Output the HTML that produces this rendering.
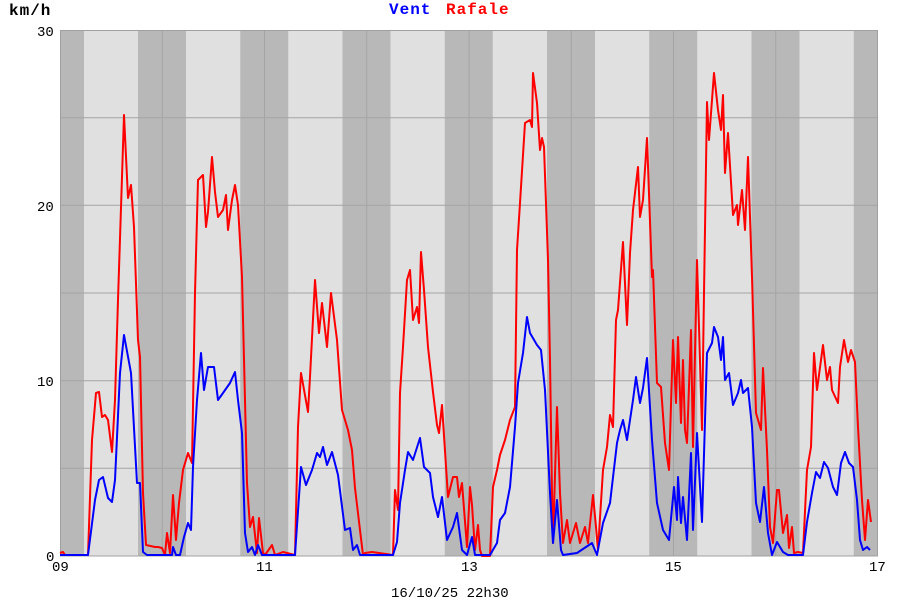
<!DOCTYPE html>
<html><head><meta charset="utf-8"><style>
body{margin:0;background:#fff;width:900px;height:600px;overflow:hidden}
svg{display:block}
text{font-family:"Liberation Mono",monospace;font-size:14px;fill:#000}
.t{font-size:16px;font-weight:bold;letter-spacing:1px}
</style></head><body>
<svg width="900" height="600" viewBox="0 0 900 600">
<rect x="60" y="30" width="818" height="526" fill="#e0e0e0"/>
<g fill="#b8b8b8">
<rect x="60" y="30" width="24" height="526"/>
<rect x="138" y="30" width="48" height="526"/>
<rect x="240.25" y="30" width="48" height="526"/>
<rect x="342.5" y="30" width="48" height="526"/>
<rect x="444.75" y="30" width="48" height="526"/>
<rect x="547" y="30" width="48" height="526"/>
<rect x="649.25" y="30" width="48" height="526"/>
<rect x="751.5" y="30" width="48" height="526"/>
<rect x="853.75" y="30" width="24.25" height="526"/>
</g>
<g stroke="#a4a4a4" stroke-width="1">
<line x1="60" y1="117.7" x2="878" y2="117.7"/>
<line x1="60" y1="205.3" x2="878" y2="205.3"/>
<line x1="60" y1="293" x2="878" y2="293"/>
<line x1="60" y1="380.7" x2="878" y2="380.7"/>
<line x1="60" y1="468.3" x2="878" y2="468.3"/>
<line x1="162.25" y1="30" x2="162.25" y2="556"/>
<line x1="264.5" y1="30" x2="264.5" y2="556"/>
<line x1="366.75" y1="30" x2="366.75" y2="556"/>
<line x1="469" y1="30" x2="469" y2="556"/>
<line x1="571.25" y1="30" x2="571.25" y2="556"/>
<line x1="673.5" y1="30" x2="673.5" y2="556"/>
<line x1="775.75" y1="30" x2="775.75" y2="556"/>
</g>
<rect x="60.5" y="30.5" width="817" height="525.5" fill="none" stroke="#a0a0a0"/>
<polyline fill="none" stroke="#ff0000" stroke-width="2" stroke-linejoin="round" points="60,553 63,552 65,555 88,555 92,440 96,393 99,392 102,417 105,415 108,420 112,452 115,400 118,300 122,177 124,115 128,198 131,185 134,227 138,340 140,357 143,493 146,545 155,547 158,547 162,548 165,555 167,533 170,553 173,495 176,540 179,503 183,470 188,453 192,463 195,293 198,180 203,175 206,227 208,212 212,157 215,192 218,217 223,210 226,195 228,230 232,200 235,185 238,205 242,277 247,483 250,527 253,517 257,553 259,518 263,553 265,555 272,545 275,555 283,552 295,555 298,427 301,373 308,412 310,377 315,280 319,333 322,303 327,347 331,293 337,340 342,410 348,430 352,450 355,488 360,530 363,555 365,553 372,552 393,555 395,490 398,510 400,393 403,347 407,280 410,270 413,320 417,307 419,323 421,252 424,290 428,347 433,392 437,425 439,433 442,405 448,497 453,477 457,477 459,497 462,483 467,547 470,487 472,505 475,550 478,525 480,550 482,556 490,556 493,487 497,470 500,455 505,440 510,420 515,407 517,250 520,203 525,123 530,120 532,127 533,73 537,103 540,150 542,138 544,147 548,260 550,360 552,493 553,543 557,407 560,493 563,543 567,520 570,543 576,523 580,543 585,527 588,543 593,495 596,527 598,550 603,470 607,447 610,415 613,427 616,320 618,310 623,242 627,325 630,253 633,210 638,167 640,217 643,200 647,138 652,277 653,270 657,383 661,387 665,443 669,470 673,340 676,403 678,337 681,423 683,360 685,430 687,443 691,330 693,447 697,260 699,327 702,430 704,293 707,102 709,140 712,100 714,73 718,110 721,130 723,95 725,173 728,133 733,215 737,205 738,225 742,190 745,230 748,157 752,277 756,413 761,430 763,368 767,450 770,527 773,543 777,490 779,490 783,533 787,515 789,548 792,527 794,553 798,552 803,553 807,470 811,447 814,353 817,390 823,345 827,380 830,367 832,390 838,403 840,367 844,340 848,362 851,350 855,362 858,427 862,500 865,540 868,500 871,522"/>
<polyline fill="none" stroke="#0000ff" stroke-width="2" stroke-linejoin="round" points="60,555 88,555 95,500 99,480 103,477 108,498 112,502 115,480 120,373 124,335 131,373 137,483 140,483 143,552 147,555 172,555 173,547 176,555 180,555 184,537 188,523 191,530 193,467 197,400 201,353 204,390 208,367 214,367 218,400 223,393 230,383 235,372 238,400 242,433 245,533 248,552 252,547 255,555 258,545 262,555 295,555 301,467 306,485 312,470 317,453 320,457 323,447 327,465 332,452 338,475 345,530 350,528 353,550 357,545 360,555 393,555 397,542 400,503 405,470 408,452 413,460 420,438 424,467 430,473 433,497 438,517 442,497 447,540 453,527 457,513 462,550 467,555 472,537 475,555 490,555 497,543 500,520 505,513 510,487 515,427 518,383 523,353 527,317 530,333 537,345 541,350 545,390 550,493 553,543 557,500 561,550 563,555 577,553 592,543 597,555 603,523 610,503 617,443 620,430 623,420 627,440 633,400 636,377 640,403 643,388 647,358 652,440 657,503 663,530 669,540 674,487 677,520 678,477 681,523 683,497 687,540 691,453 693,530 697,433 702,522 707,353 712,343 714,327 718,337 721,360 723,337 725,380 729,373 733,405 738,393 741,380 743,393 748,388 752,427 756,503 760,522 764,487 768,533 772,555 777,542 783,552 788,555 803,555 807,522 812,493 816,472 820,478 824,462 828,468 833,487 837,495 841,463 845,452 849,463 853,467 857,500 860,540 863,550 867,547 870,550"/>
<text x="9" y="15" class="t">km/h</text>
<text x="389" y="14" class="t" style="fill:#0000ff">Vent</text>
<text x="446" y="14" class="t" style="fill:#ff0000">Rafale</text>
<text x="37" y="36">30</text>
<text x="37" y="211">20</text>
<text x="37" y="386">10</text>
<text x="46" y="561">0</text>
<text x="52" y="571">09</text>
<text x="256" y="571">11</text>
<text x="461" y="571">13</text>
<text x="665" y="571">15</text>
<text x="869" y="571">17</text>
<text x="391" y="597">16/10/25 22h30</text>
</svg>
</body></html>
